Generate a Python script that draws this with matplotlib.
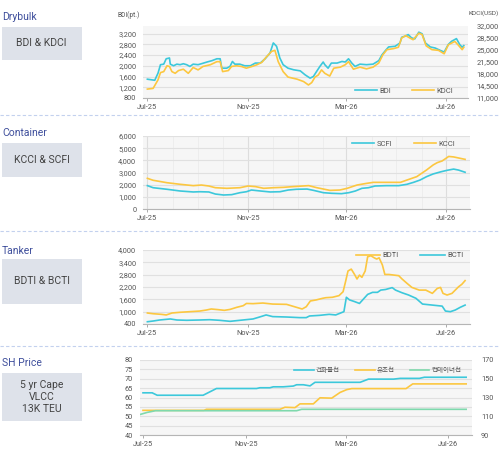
import numpy as np
import matplotlib
matplotlib.use("Agg")
import matplotlib.pyplot as plt
import matplotlib.dates as mdates
from matplotlib.ticker import FuncFormatter
from matplotlib.patches import Rectangle
from matplotlib.lines import Line2D

plt.rcParams['font.family'] = ['Roboto', 'Noto Sans CJK KR', 'DejaVu Sans']

START = np.datetime64('2025-07-01')

# --- Drybulk (days since 2025-07-01) ---
bdi_day = [0, 9, 13, 16, 20, 23, 27, 28, 32, 36, 40, 44, 48, 52, 56, 62, 66, 73, 79, 85,
           89, 91, 97, 101, 104, 107, 113, 119, 126, 132, 138, 144, 150, 154, 158, 162, 166, 172, 179, 187,
           193, 199, 203, 207, 211, 215, 217, 221, 225, 232, 238, 242, 246, 250, 254, 260, 268, 276, 283, 287,
           291, 295, 303, 309, 311, 315, 319, 323, 327, 332, 336, 340, 346, 352, 358, 363, 368, 372, 378, 382,
           385, 387]
bdi = [1500, 1460, 1725, 2040, 2060, 2260, 2290, 2060, 2000, 2060, 2040, 2075, 2040, 1975, 2060, 2040, 2075, 2140, 2190, 2260,
       2260, 1910, 1910, 1975, 2160, 2060, 2060, 2000, 2000, 2100, 2100, 2260, 2475, 2850, 2725, 2290, 2040, 1910, 1850, 1810,
       1660, 1540, 1600, 1790, 1975, 2140, 2040, 1910, 2100, 2100, 2160, 2140, 2260, 2100, 1975, 2060, 2040, 2060, 2190, 2410,
       2560, 2700, 2725, 2850, 3060, 3100, 3160, 3040, 3000, 3250, 3190, 2850, 2700, 2660, 2575, 2510, 2790, 2910, 3010, 2790,
       2690, 2750]
kdci_day = [0, 7, 13, 16, 20, 24, 27, 30, 34, 38, 44, 50, 56, 62, 68, 77, 85, 89, 92, 99,
            103, 109, 115, 121, 128, 134, 140, 146, 152, 156, 160, 166, 172, 183, 191, 197, 201, 205, 209, 213,
            217, 223, 228, 236, 242, 246, 252, 260, 268, 276, 283, 288, 293, 301, 307, 311, 316, 321, 325, 332,
            336, 341, 348, 356, 363, 368, 376, 380, 385, 387]
kdci = [13600, 13800, 16300, 18400, 18700, 20400, 20200, 18700, 18200, 19000, 19400, 18200, 19900, 19200, 20200, 20700, 21600, 21600, 18700, 19000,
        20200, 20400, 20200, 19700, 20200, 20700, 21400, 23100, 24600, 24900, 21600, 18700, 17100, 16500, 15800, 14800, 15500, 17100, 17700, 19200,
        18200, 17400, 19700, 20000, 20700, 21600, 19400, 20000, 19500, 20000, 21200, 23600, 25100, 25400, 25800, 28500, 29200, 28500, 28000, 29900,
        29500, 26200, 25100, 24900, 23900, 26500, 27500, 26500, 25100, 25800]

# --- Container ---
scfi_day = [0, 7, 24, 40, 56, 64, 75, 83, 93, 103, 113, 121, 127, 138, 150, 162, 172, 182, 195, 203,
            215, 225, 237, 246, 254, 262, 270, 278, 292, 307, 317, 325, 333, 341, 349, 358, 366, 374, 380, 388]
scfi = [1920, 1750, 1620, 1480, 1400, 1420, 1400, 1230, 1150, 1180, 1340, 1420, 1560, 1480, 1400, 1420, 1560, 1620, 1640, 1530,
        1340, 1290, 1260, 1340, 1480, 1700, 1750, 1890, 1920, 1920, 2030, 2190, 2380, 2660, 2880, 3050, 3180, 3280, 3200, 3020]
kcci_day = [0, 7, 24, 40, 56, 66, 75, 83, 97, 113, 123, 132, 142, 154, 166, 178, 197, 207, 223, 235,
            244, 256, 268, 276, 288, 309, 317, 329, 341, 349, 354, 360, 368, 374, 388]
kcci = [2520, 2360, 2160, 2030, 1920, 1970, 1890, 1750, 1700, 1750, 1890, 1840, 1700, 1750, 1780, 1840, 1920, 1750, 1530, 1560,
        1700, 1970, 2110, 2190, 2190, 2190, 2380, 2660, 3210, 3620, 3810, 3950, 4320, 4280, 4080]

# --- Tanker ---
bdti_day = [0, 7, 17, 23, 30, 40, 52, 64, 72, 78, 86, 94, 101, 109, 117, 121, 129, 141, 153, 170,
            178, 189, 194, 199, 206, 214, 218, 226, 234, 239, 242, 245, 249, 253, 256, 259, 262, 266, 269, 273,
            277, 280, 283, 287, 290, 295, 301, 307, 311, 317, 323, 332, 340, 348, 354, 358, 361, 366, 372, 380,
            384, 388]
bdti = [935, 900, 870, 840, 935, 970, 1000, 1030, 1080, 1130, 1100, 1065, 1110, 1210, 1290, 1400, 1390, 1420, 1370, 1355,
        1260, 1130, 1240, 1520, 1570, 1650, 1680, 1700, 1780, 1970, 2460, 2980, 3070, 2810, 2590, 2780, 2670, 2980, 3670, 3720,
        3620, 3560, 3620, 3270, 2810, 2810, 2780, 2750, 2590, 2380, 2180, 2050, 2050, 1890, 2130, 2180, 1890, 1810, 1890, 2210,
        2330, 2510]
bcti_day = [0, 7, 15, 28, 36, 48, 64, 76, 88, 101, 113, 129, 137, 145, 153, 170, 186, 194, 198, 210,
            222, 230, 240, 243, 247, 253, 259, 264, 269, 275, 281, 285, 291, 299, 303, 311, 319, 328, 336, 348,
            360, 364, 370, 376, 382, 388]
bcti = [510, 545, 595, 645, 595, 580, 595, 610, 580, 530, 580, 645, 740, 840, 760, 740, 710, 710, 790, 820,
        870, 840, 1000, 1700, 1570, 1490, 1400, 1620, 1840, 1940, 1940, 2050, 2080, 2170, 2050, 1920, 1810, 1650, 1370, 1320,
        1270, 1030, 1000, 1080, 1210, 1320]

# --- SH Price ---
cape_day = [0, 11, 17, 72, 88, 136, 140, 152, 156, 168, 180, 184, 192, 200, 206, 260, 270, 300, 308, 331, 337, 387]
cape = [62.5, 62.5, 61.2, 61.2, 64.8, 64.8, 65.2, 65.2, 65.7, 65.7, 66.1, 66.8, 66.8, 66.2, 68.1, 68.1, 69.8, 69.8, 70.2, 70.2, 70.8, 70.8]
vlcc_day = [0, 73, 76, 164, 170, 182, 188, 204, 212, 226, 236, 244, 250, 315, 323, 387]
vlcc = [116.3, 116.3, 117.4, 117.4, 119.6, 119.2, 123.2, 123.2, 129.7, 129.3, 135.4, 138.4, 139.5, 139.5, 144.5, 144.5]
teu_day = [-3, 5, 15, 184, 190, 387]
teu = [112.0, 114.1, 115.9, 115.9, 117.4, 117.4]

CYAN = '#3cc8db'
ORANGE = '#fcc740'
GREEN = '#7fd9ad'
BG = '#f6f6f6'
GRID = '#e0e0e0'
TXT = '#555555'
TITLE = '#3f4f9c'

W, H = 500, 450
fig = plt.figure(figsize=(5, 4.5), dpi=100)


def rect(l, t, r, b):
    return [l / W, 1 - b / H, (r - l) / W, (b - t) / H]


def dates(days):
    return START + np.array(days).astype('timedelta64[D]')


def day(n):
    return START + np.timedelta64(int(round(n * 24)), 'h')


comma = FuncFormatter(lambda v, p: f'{v:,.0f}')


def style(ax, ylim, yticks, x0, x1, vgrid=False, fmt=comma):
    ax.set_facecolor(BG)
    ax.set_xlim(day(x0), day(x1))
    ax.set_ylim(*ylim)
    ax.set_yticks(yticks)
    ax.yaxis.set_major_formatter(fmt)
    ax.xaxis.set_major_locator(mdates.MonthLocator(bymonth=[3, 7, 11]))
    ax.xaxis.set_major_formatter(mdates.DateFormatter('%b-%y'))
    for s in ['top', 'right', 'left']:
        ax.spines[s].set_visible(False)
    ax.spines['bottom'].set_color('#b5b5b5')
    ax.spines['bottom'].set_linewidth(0.8)
    ax.tick_params(axis='x', length=2.5, width=0.7, color='#aaaaaa', labelsize=5.3, labelcolor=TXT, pad=2)
    ax.tick_params(axis='y', length=0, labelsize=5.3, labelcolor=TXT, pad=5)
    ax.grid(axis='y', color=GRID, lw=0.8)
    if vgrid:
        ax.xaxis.set_minor_locator(mdates.MonthLocator())
        ax.grid(axis='x', which='minor', color='#ececec', lw=0.6)
        ax.grid(axis='x', which='major', color='#dddddd', lw=0.8)
        ax.tick_params(axis='x', which='minor', length=0)
    ax.set_axisbelow(True)


def section(title, label, y_title, box_top, box_bot, y_sep=None):
    fig.text(2 / W, 1 - y_title / H, title, fontsize=7.5, color=TITLE, va='center', ha='left')
    fig.patches.append(Rectangle((2 / W, 1 - box_bot / H), 79.5 / W, (box_bot - box_top) / H,
                                 transform=fig.transFigure, facecolor='#dee2ea', edgecolor='none'))
    fig.text(41.5 / W, 1 - (box_top + box_bot) / 2 / H, label, fontsize=7.5, color='#444444',
             ha='center', va='center', linespacing=1.25)
    if y_sep is not None:
        fig.lines.append(Line2D([0, 1], [1 - y_sep / H] * 2, transform=fig.transFigure,
                                color='#c3d1ee', lw=0.8, ls=(0, (3, 2))))


# Drybulk
ax1 = fig.add_axes(rect(143.3, 26, 468.3, 98))
style(ax1, (800, 3480), range(800, 3201, 400), -5, 392.5)
l1, = ax1.plot(dates(bdi_day), bdi, color=CYAN, lw=1.2, label='BDI')
ax1b = ax1.twinx()
ax1b.set_ylim(11000, 32000)
ax1b.set_yticks(range(11000, 32001, 3500))
ax1b.yaxis.set_major_formatter(comma)
for s in ax1b.spines.values():
    s.set_visible(False)
ax1b.tick_params(axis='y', length=0, labelsize=5.3, labelcolor=TXT, pad=6)
l2, = ax1b.plot(dates(kdci_day), kdci, color=ORANGE, lw=1.2, label='KDCI')
ax1b.legend(handles=[l1, l2], loc='center right', bbox_to_anchor=(0.975, 0.1), ncol=2, frameon=False,
            fontsize=5.5, labelcolor=TXT, handlelength=2.9, handletextpad=0.3, columnspacing=2.8)
fig.text(140 / W, 1 - 15 / H, 'BDI(pt.)', fontsize=4.8, color=TXT, ha='right', va='center')
fig.text(499 / W, 1 - 13 / H, 'KDCI(USD)', fontsize=4.6, color=TXT, ha='right', va='center')
section('Drybulk', 'BDI & KDCI', 17, 27, 60)

# Container
ax2 = fig.add_axes(rect(143.3, 136, 470, 209))
style(ax2, (0, 6000), range(0, 6001, 1000), -5, 394, vgrid=True)
ax2.plot(dates(scfi_day), scfi, color=CYAN, lw=1.2, label='SCFI')
ax2.plot(dates(kcci_day), kcci, color=ORANGE, lw=1.2, label='KCCI')
ax2.legend(loc='center right', bbox_to_anchor=(0.975, 0.895), ncol=2, frameon=False,
           fontsize=5.5, labelcolor=TXT, handlelength=2.9, handletextpad=0.3, columnspacing=2.8)
section('Container', 'KCCI & SCFI', 133, 143, 177, y_sep=115)

# Tanker
ax3 = fig.add_axes(rect(143.3, 250, 470, 324))
style(ax3, (400, 4000), range(400, 4001, 600), -5, 394)
ax3.plot(dates(bdti_day), bdti, color=ORANGE, lw=1.2, label='BDTI')
ax3.plot(dates(bcti_day), bcti, color=CYAN, lw=1.2, label='BCTI')
ax3.legend(loc='center right', bbox_to_anchor=(1.0, 0.93), ncol=2, frameon=False,
           fontsize=5.5, labelcolor=TXT, handlelength=3.2, handletextpad=0.3, columnspacing=2.8)
section('Tanker', 'BDTI & BCTI', 251, 259, 304, y_sep=231)

# SH Price
ax4 = fig.add_axes(rect(140, 360, 472, 435))
style(ax4, (40, 80), range(40, 81, 5), -3.6, 394, fmt=FuncFormatter(lambda v, p: f'{v:.0f}'))
ax4.tick_params(axis='y', pad=5)
h1, = ax4.plot(dates(cape_day), cape, color=CYAN, lw=1.2, label='건화물선')
ax4b = ax4.twinx()
ax4b.set_ylim(90, 170)
ax4b.set_yticks(range(90, 171, 20))
for s in ax4b.spines.values():
    s.set_visible(False)
ax4b.tick_params(axis='y', length=0, labelsize=5.3, labelcolor=TXT, pad=6.5)
h2, = ax4b.plot(dates(vlcc_day), vlcc, color=ORANGE, lw=1.2, label='유조선')
h3, = ax4b.plot(dates(teu_day), teu, color=GREEN, lw=1.2, label='컨테이너선')
ax4b.legend(handles=[h1, h2, h3], loc='center right', bbox_to_anchor=(0.985, 0.86), ncol=3, frameon=False,
            fontsize=4.7, labelcolor=TXT, handlelength=3.0, handletextpad=0.3, columnspacing=2.3)
section('SH Price', '5 yr Cape\nVLCC\n13K TEU', 363, 373, 421, y_sep=346)

fig.savefig('out.png', dpi=100)
